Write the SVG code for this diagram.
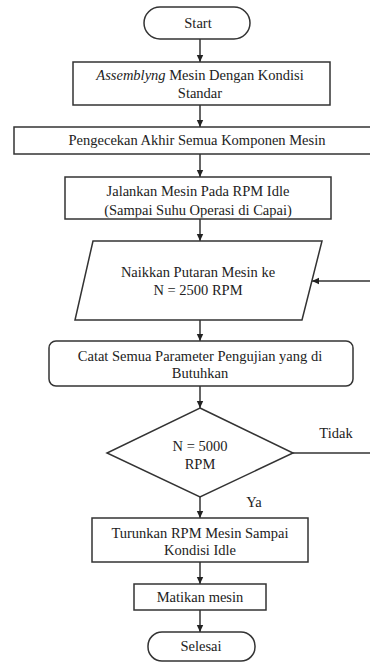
<svg xmlns="http://www.w3.org/2000/svg" width="370" height="662" viewBox="0 0 370 662">
<style>
.s{fill:#fff;stroke:#333;stroke-width:1.5}
.t{font-family:'Liberation Serif',serif;font-size:14.5px;fill:#222;text-anchor:middle}
.c{stroke:#333;stroke-width:1.5;fill:none}
</style>
<defs>
<marker id="ah" markerWidth="8" markerHeight="8" refX="7" refY="4" orient="auto" markerUnits="userSpaceOnUse">
<path d="M0,0.8 L7,4 L0,7.2 Z" fill="#222"/>
</marker>
<clipPath id="c3"><rect x="65" y="177" width="266" height="40.5"/></clipPath>
</defs>
<rect width="370" height="662" fill="#fff"/>
<g id="connectors">
<line class="c" x1="200" y1="39" x2="200" y2="62" marker-end="url(#ah)"/>
<line class="c" x1="200" y1="105" x2="200" y2="127" marker-end="url(#ah)"/>
<line class="c" x1="200" y1="154" x2="200" y2="177" marker-end="url(#ah)"/>
<line class="c" x1="200" y1="219" x2="200" y2="241" marker-end="url(#ah)"/>
<line class="c" x1="370" y1="281" x2="312" y2="281" marker-end="url(#ah)"/>
<line class="c" x1="200" y1="320" x2="200" y2="341" marker-end="url(#ah)"/>
<line class="c" x1="200" y1="386" x2="200" y2="408" marker-end="url(#ah)"/>
<line class="c" x1="293" y1="453" x2="370" y2="453"/>
<line class="c" x1="200" y1="497" x2="200" y2="518" marker-end="url(#ah)"/>
<line class="c" x1="200" y1="562" x2="200" y2="584" marker-end="url(#ah)"/>
<line class="c" x1="200" y1="610" x2="200" y2="632" marker-end="url(#ah)"/>
<text class="t" font-family="Liberation Serif, serif" x="336" y="438">Tidak</text>
<text class="t" font-family="Liberation Serif, serif" x="254" y="507">Ya</text>
</g>
<g id="start">
<rect class="s" x="144" y="7" width="106" height="32" rx="16"/>
<text class="t" font-family="Liberation Serif, serif" x="198" y="28">Start</text>
</g>
<g id="assembly">
<rect class="s" x="73" y="62" width="257" height="43"/>
<text class="t" font-family="Liberation Serif, serif" x="200" y="80"><tspan font-style="italic">Assemblyng</tspan> Mesin Dengan Kondisi</text>
<text class="t" font-family="Liberation Serif, serif" x="200" y="98">Standar</text>
</g>
<g id="pengecekan">
<rect class="s" x="14" y="127" width="362" height="27"/>
<text class="t" font-family="Liberation Serif, serif" x="197" y="145">Pengecekan Akhir Semua Komponen Mesin</text>
</g>
<g id="jalankan">
<rect class="s" x="65" y="177" width="266" height="42"/>
<g clip-path="url(#c3)">
<text class="t" font-family="Liberation Serif, serif" x="198" y="196">Jalankan Mesin Pada RPM Idle</text>
<text class="t" font-family="Liberation Serif, serif" x="198" y="215">(Sampai Suhu Operasi di Capai)</text>
</g>
</g>
<g id="naikkan">
<polygon class="s" points="93,241 322,241 302,320 75,320"/>
<text class="t" font-family="Liberation Serif, serif" x="198" y="277">Naikkan Putaran Mesin ke</text>
<text class="t" font-family="Liberation Serif, serif" x="198" y="295">N = 2500 RPM</text>
</g>
<g id="catat">
<rect class="s" x="49" y="341" width="304" height="45" rx="7"/>
<text class="t" font-family="Liberation Serif, serif" x="200" y="361">Catat Semua Parameter Pengujian yang di</text>
<text class="t" font-family="Liberation Serif, serif" x="200" y="378">Butuhkan</text>
</g>
<g id="decision">
<polygon class="s" points="200,408 293,453 200,497 107,453"/>
<text class="t" font-family="Liberation Serif, serif" x="200" y="451">N = 5000</text>
<text class="t" font-family="Liberation Serif, serif" x="200" y="469">RPM</text>
</g>
<g id="turunkan">
<rect class="s" x="92" y="518" width="216" height="44"/>
<text class="t" font-family="Liberation Serif, serif" x="200" y="538">Turunkan RPM Mesin  Sampai</text>
<text class="t" font-family="Liberation Serif, serif" x="200" y="555">Kondisi Idle</text>
</g>
<g id="matikan">
<rect class="s" x="134" y="584" width="132" height="26"/>
<text class="t" font-family="Liberation Serif, serif" x="200" y="602">Matikan mesin</text>
</g>
<g id="selesai">
<rect class="s" x="148" y="632" width="107" height="29" rx="14"/>
<text class="t" font-family="Liberation Serif, serif" x="201" y="651">Selesai</text>
</g>
</svg>
